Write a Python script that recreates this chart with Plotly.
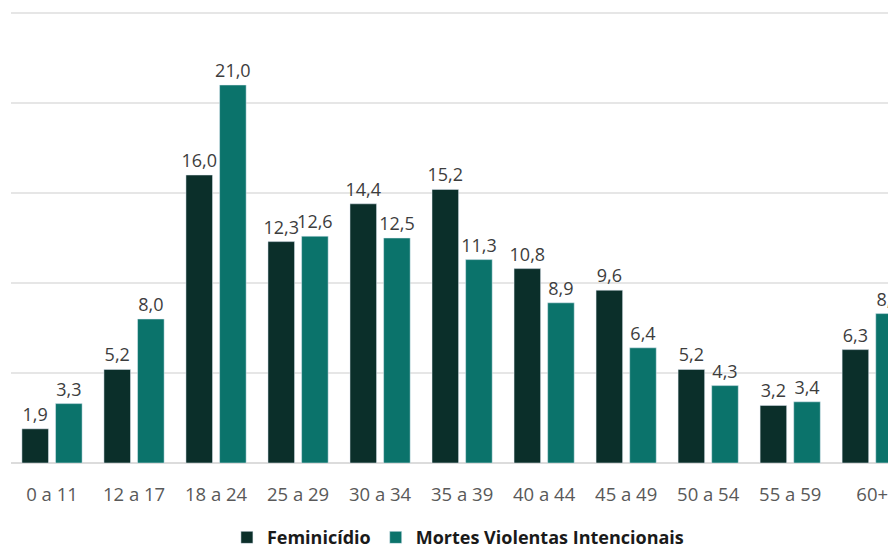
import plotly.graph_objects as go

categories = ["0 a 11", "12 a 17", "18 a 24", "25 a 29", "30 a 34", "35 a 39",
              "40 a 44", "45 a 49", "50 a 54", "55 a 59", "60+"]
feminicidio = [1.9, 5.2, 16.0, 12.3, 14.4, 15.2, 10.8, 9.6, 5.2, 3.2, 6.3]
mvi = [3.3, 8.0, 21.0, 12.6, 12.5, 11.3, 8.9, 6.4, 4.3, 3.4, 8.3]

FONT = "Open Sans"

fig = go.Figure()
fig.add_trace(go.Bar(
    x=categories, y=feminicidio, name="Feminicídio",
    marker_color="#0b2f2a",
    texttemplate="%{y:.1f}", textposition="outside", constraintext="none",
    textfont=dict(family=FONT, size=18, color="#3d3d3d"),
    cliponaxis=True,
))
fig.add_trace(go.Bar(
    x=categories, y=mvi, name="Mortes Violentas Intencionais",
    marker_color="#0b736b",
    texttemplate="%{y:.1f}", textposition="outside", constraintext="none",
    textfont=dict(family=FONT, size=18, color="#3d3d3d"),
    cliponaxis=True,
))

fig.update_layout(
    width=888, height=556,
    margin=dict(l=3, r=0, t=2, b=101),
    paper_bgcolor="white", plot_bgcolor="white",
    separators=",.",
    barmode="group", bargap=0.18, bargroupgap=0.21,
    font=dict(family=FONT, size=17, color="#595959"),
    showlegend=True,
    legend=dict(
        orientation="h", x=0.505, xanchor="center", y=-0.124, yanchor="top",
        font=dict(family=FONT, size=18, color="#1a1a1a", weight="bold"),
        traceorder="normal",
    ),
)
fig.update_xaxes(
    range=[-0.5, 10.29], showgrid=False, showline=False, ticks="",
    ticklabelstandoff=18,
    tickfont=dict(family=FONT, size=18.5, color="#595959"),
)
fig.update_yaxes(
    range=[0, 25.167], dtick=5, showticklabels=False, showgrid=True,
    gridcolor="#e6e6e6", gridwidth=1.5, zeroline=True, zerolinecolor="#dcdcdc",
    zerolinewidth=1.5,
)

fig.write_html("out.html")
